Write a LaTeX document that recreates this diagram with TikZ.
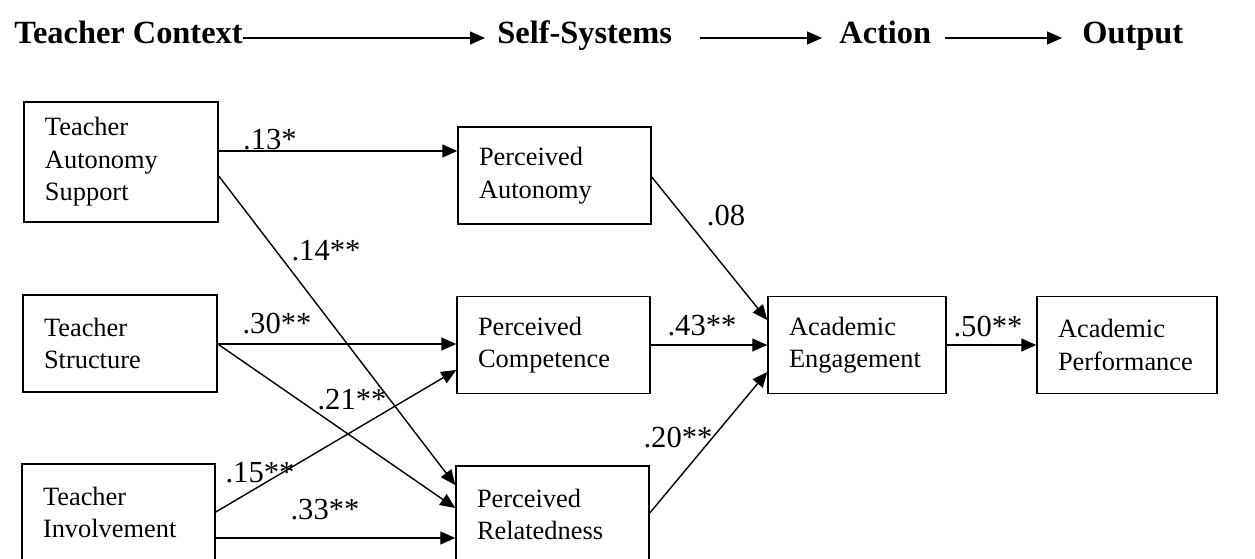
\documentclass[tikz,border=0pt]{standalone}
\usepackage{fontspec}
\setmainfont{Liberation Serif}
\usetikzlibrary{arrows.meta, calc}

\tikzset{
  box/.style={draw, line width=0.75pt, align=left, inner xsep=10.5pt, inner ysep=0pt,
    font=\fontsize{13.2}{16.2}\selectfont},
  link/.style={draw, line width=0.7pt, -{Triangle[length=7.5pt, width=6.5pt]}},
  coef/.style={font=\fontsize{15.3}{18}\selectfont, inner sep=0pt},
  heading/.style={font=\fontsize{16.2}{19}\selectfont\bfseries, inner sep=0pt, anchor=base west},
}

\begin{document}
\begin{tikzpicture}[x=0.5pt, y=-0.5pt]
\useasboundingbox (0,0) rectangle (1255,558);

% stages along the top
\node[heading] (ctx) at (14,43) {Teacher Context};
\node[heading] (self) at (497,43) {Self-Systems};
\node[heading] (act) at (839,43) {Action};
\node[heading] (out) at (1082,43) {Output};
\draw[link] (ctx.east |- 0,38) -- ([xshift=-6pt]self.west |- 0,38);
\draw[link] ([xshift=14pt]self.east |- 0,38) -- ([xshift=-8.5pt]act.west |- 0,38);
\draw[link] ([xshift=6.5pt]act.east |- 0,38) -- ([xshift=-10pt]out.west |- 0,38);

% teacher context
\node[box, text width=76pt, minimum height=60pt] (tas) at (121,162) {Teacher\\Autonomy\\Support};
\node[box, text width=76pt, minimum height=48.5pt] (ts) at (120,343.5) {Teacher\\Structure};
\node[box, text width=75.5pt, minimum height=48.5pt] (ti) at (118.5,512.5) {Teacher\\Involvement};

% self-systems
\node[box, text width=75.5pt, minimum height=48.5pt] (pa) at (554.5,175.5) {Perceived\\Autonomy};
\node[box, text width=75.5pt, minimum height=48.5pt] (pc) at (553.5,345) {Perceived\\Competence};
\node[box, text width=75.5pt, minimum height=48.5pt] (pr) at (552.5,514.5) {Perceived\\Relatedness};

% action and output
\node[box, text width=68pt, minimum height=48.5pt] (ae) at (857,345) {Academic\\Engagement};
\node[box, text width=69pt, minimum height=48.5pt] (ap) at (1127,345) {Academic\\Performance};

% paths
\draw[link] (tas.east |- 0,151) -- (pa.west |- 0,151);
\draw[link] (tas.east |- 0,176) -- (pr.west |- 0,485);
\draw[link] (ts.east |- 0,344) -- (pc.west |- 0,344);
\draw[link] (ts.east |- 0,344) -- (pr.west |- 0,508);
\draw[link] (ti.east |- 0,512) -- (pc.west |- 0,370);
\draw[link] (ti.east |- 0,538) -- (pr.west |- 0,538);
\draw[link] (pa.east |- 0,177) -- (ae.west |- 0,320);
\draw[link] (pc.east) -- (ae.west);
\draw[link] (pr.east |- 0,513) -- (ae.west |- 0,372);
\draw[link] (ae.east) -- (ap.west);

% coefficients
\node[coef] (c13) at (270,140) {.13*};
\node[coef] (c14) at (326,251) {.14**};
\node[coef] (c30) at (277,324) {.30**};
\node[coef] (c21) at (352,400) {.21**};
\node[coef] (c15) at (260,473) {.15**};
\node[coef] (c33) at (325,510) {.33**};
\node[coef] (c08) at (726,216) {.08};
\node[coef] (c43) at (702,326) {.43**};
\node[coef] (c20) at (678,438) {.20**};
\node[coef] (c50) at (988,327) {.50**};

\end{tikzpicture}
\end{document}
